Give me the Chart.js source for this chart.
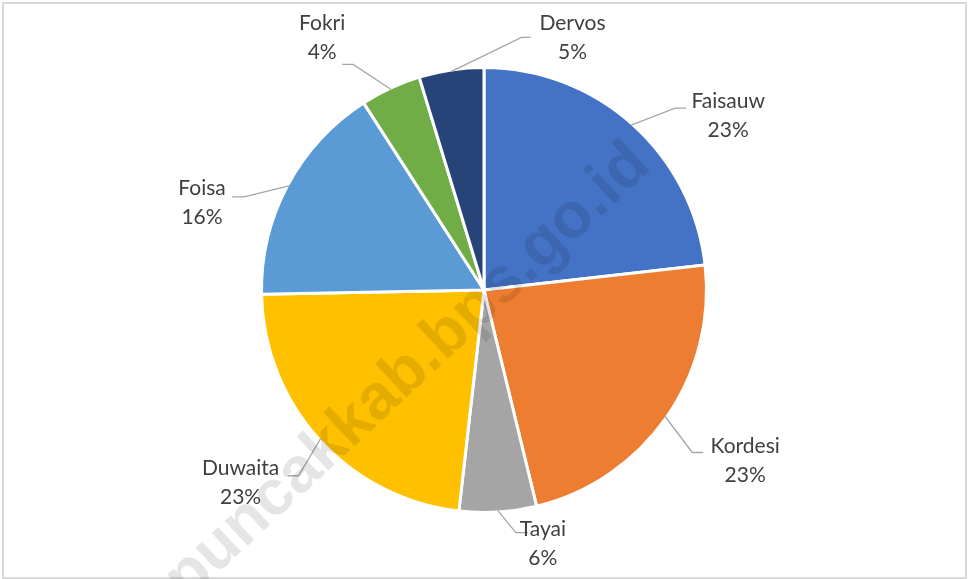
<!DOCTYPE html>
<html>
<head>
<meta charset="utf-8">
<title>Pie chart</title>
<script src="https://cdn.jsdelivr.net/npm/chart.js@4/dist/chart.umd.min.js"></script>
<style>
    html, body { margin: 0; padding: 0; background: #ffffff; }
    #chartBox { width: 969px; height: 579px; }
</style>
</head>
<body>
<div id="chartBox"><canvas id="pieChart" width="969" height="579"></canvas></div>
<script>
// Data
const categories = ['Faisauw', 'Kordesi', 'Tayai', 'Duwaita', 'Foisa', 'Fokri', 'Dervos'];
const shares = [23.2, 23.0, 5.6, 22.9, 16.2, 4.4, 4.7];
const sliceColors = ['#4472C4', '#ED7D31', '#A5A5A5', '#FFC000', '#5B9BD5', '#70AD47', '#264478'];

// Label placement relative to the outer edge point of each slice
// t = text block centre, e = leader elbow, h = end x of short horizontal tail
const labelOffsets = [
    { tx: 97, ty: -9, ex: 44, ey: -17, hx: 55 },
    { tx: 80, ty: 44, ex: 27, ey: 36, hx: 38 },
    { tx: 45, ty: 33, ex: 18, ey: 22, hx: 30 },
    { tx: -80, ty: 44, ex: -22, ey: 37, hx: -33 },
    { tx: -87, ty: 17, ex: -45, ey: 11, hx: -57 },
    { tx: -69, ty: -52, ex: -38, ey: -25, hx: -49 },
    { tx: 121, ty: -34, ex: 70, ey: -34, hx: 79 }
];

const watermarkText = 'puncakkab.bps.go.id';

// Frame around the whole picture
const framePlugin = {
    id: 'frame',
    beforeDraw: function(chart) {
        const ctx = chart.ctx;
        ctx.save();
        ctx.fillStyle = '#ffffff';
        ctx.fillRect(0, 0, chart.width, chart.height);
        ctx.strokeStyle = '#d9d9d9';
        ctx.lineWidth = 2;
        ctx.strokeRect(3, 3, chart.width - 6, chart.height - 4);
        ctx.restore();
    }
};

// Outside labels with leader lines
const outsideLabels = {
    id: 'outsideLabels',
    afterDatasetsDraw: function(chart) {
        const ctx = chart.ctx;
        const meta = chart.getDatasetMeta(0);
        const values = chart.data.datasets[0].data;
        const total = values.reduce((a, b) => a + b, 0);

        ctx.save();
        meta.data.forEach((arc, i) => {
            const p = arc.getProps(['x', 'y', 'startAngle', 'endAngle', 'outerRadius'], true);
            const mid = (p.startAngle + p.endAngle) / 2;
            const r = p.outerRadius - 1.5;
            const px = p.x + Math.cos(mid) * r;
            const py = p.y + Math.sin(mid) * r;
            const off = labelOffsets[i];

            // leader line
            ctx.strokeStyle = '#a6a6a6';
            ctx.lineWidth = 1.3;
            ctx.beginPath();
            ctx.moveTo(px, py);
            ctx.lineTo(px + off.ex, py + off.ey);
            ctx.lineTo(px + off.hx, py + off.ey);
            ctx.stroke();

            // text
            const pct = Math.round(values[i] / total * 100) + '%';
            ctx.fillStyle = '#404040';
            ctx.font = '21px Lato';
            ctx.textAlign = 'center';
            ctx.textBaseline = 'middle';
            ctx.fillText(chart.data.labels[i], px + off.tx, py + off.ty - 14.5);
            ctx.fillText(pct, px + off.tx, py + off.ty + 14.5);
        });
        ctx.restore();
    }
};

// Diagonal watermark over the pie
const watermark = {
    id: 'watermark',
    afterDraw: function(chart) {
        const ctx = chart.ctx;
        const meta = chart.getDatasetMeta(0);
        const c = meta.data[0];
        ctx.save();
        ctx.translate(c.x - 76, c.y + 82);
        ctx.rotate(-43 * Math.PI / 180);
        ctx.font = 'bold 64px "Liberation Sans"';
        ctx.fillStyle = 'rgba(0, 0, 0, 0.1)';
        ctx.textAlign = 'center';
        ctx.textBaseline = 'middle';
        ctx.fillText(watermarkText, 0, 0);
        ctx.restore();
    }
};

const pieCtx = document.getElementById('pieChart').getContext('2d');
const pieChart = new Chart(pieCtx, {
    type: 'pie',
    data: {
        labels: categories,
        datasets: [{
            data: shares,
            backgroundColor: sliceColors,
            borderColor: '#ffffff',
            borderWidth: 3
        }]
    },
    options: {
        responsive: false,
        animation: false,
        radius: 222.5,
        layout: {
            padding: { left: 200, right: 201, top: 60, bottom: 59 }
        },
        plugins: {
            legend: { display: false },
            tooltip: { enabled: false }
        }
    },
    plugins: [framePlugin, outsideLabels, watermark]
});
</script>
</body>
</html>
